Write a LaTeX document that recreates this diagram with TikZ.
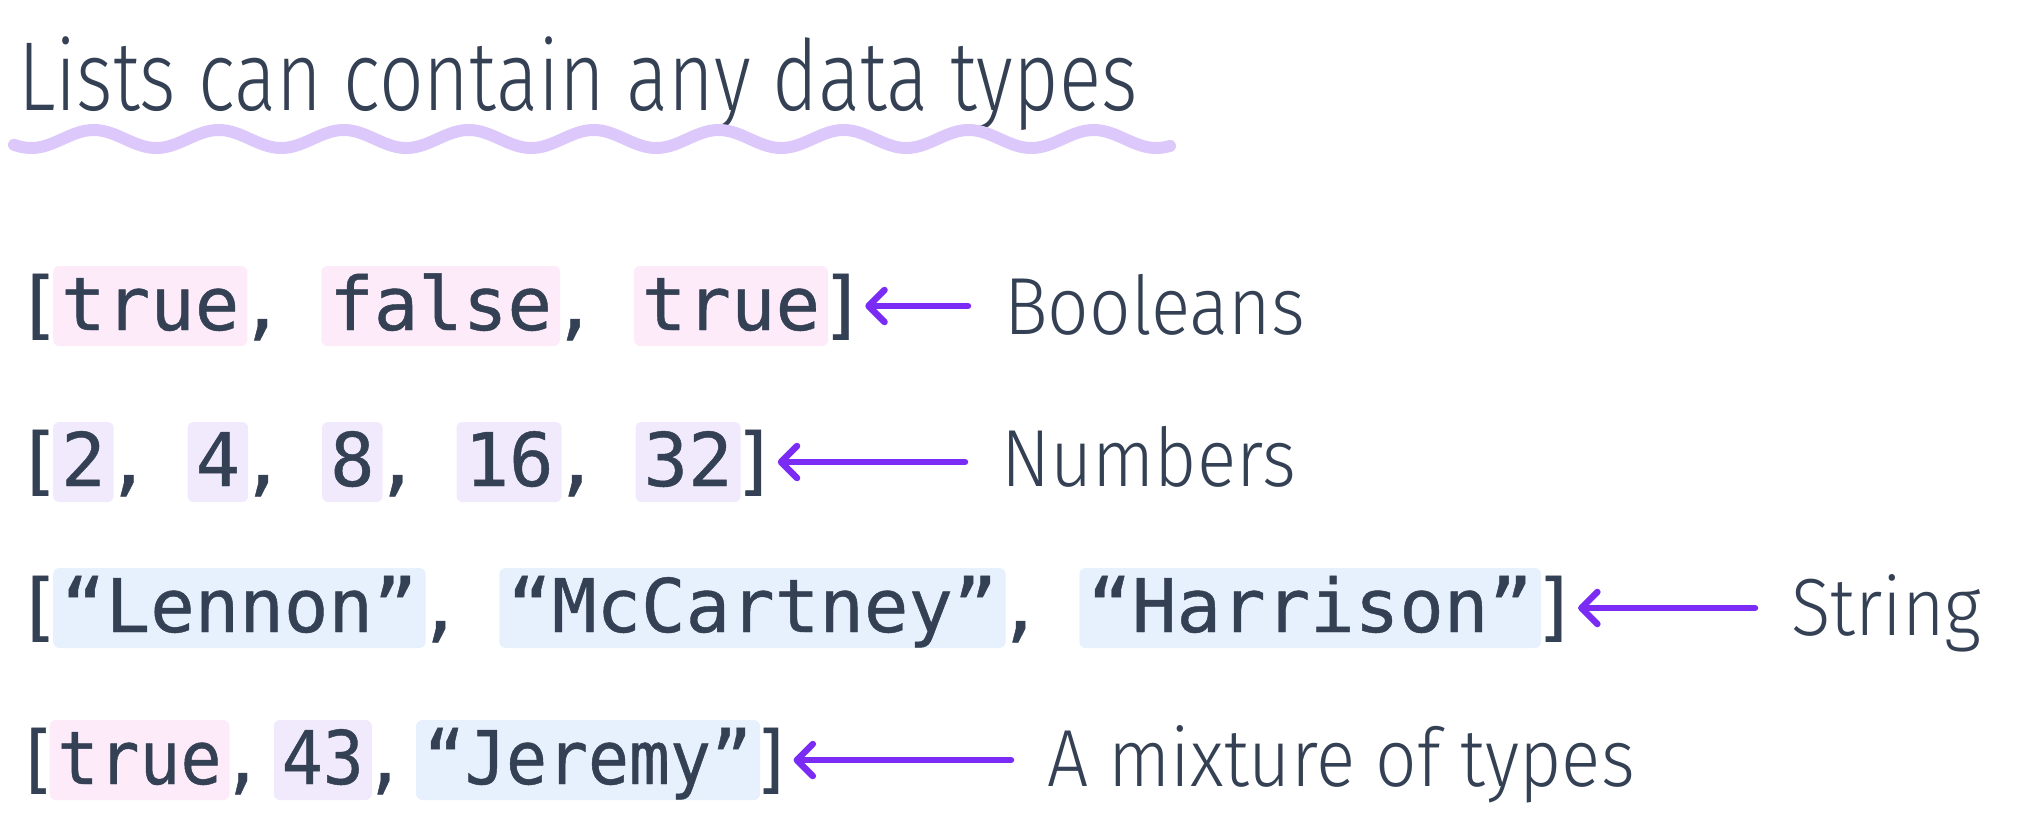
\documentclass[tikz,border=0pt]{standalone}
\usepackage{fontspec}
\usetikzlibrary{positioning,arrows.meta}

\newfontfamily\codefont[FakeBold=0.6]{DejaVu Sans Mono}
\newfontfamily\codenarrow[FakeBold=0.6, FakeStretch=0.92]{DejaVu Sans Mono}
\newfontfamily\handfont[FakeStretch=0.9]{Fira Sans Light}
\newfontfamily\titlefont[FakeStretch=0.8]{Fira Sans Light}

\definecolor{ink}{HTML}{344054}
\definecolor{boolbg}{HTML}{FDEBFA}
\definecolor{numbg}{HTML}{F1EAFD}
\definecolor{strbg}{HTML}{E7F1FE}
\definecolor{arrowcol}{HTML}{7A2BF4}
\definecolor{wavecol}{HTML}{DCC8FA}

\begin{document}
\begin{tikzpicture}[x=1pt, y=-1pt, node distance=0pt,
	codetxt/.style={text=ink, font=\codefont\fontsize{74}{84}\selectfont, inner sep=0pt, text height=56pt, text depth=8pt},
	narrow/.style={font=\codenarrow\fontsize{74}{84}\selectfont},
	sepitem/.style={codetxt},
	listitem/.style={codetxt, inner xsep=8pt, inner ysep=8pt, rounded corners=6pt},
	boolitem/.style={listitem, fill=boolbg},
	numitem/.style={listitem, fill=numbg},
	stritem/.style={listitem, fill=strbg},
	handtxt/.style={text=ink, font=\handfont\fontsize{81}{90}\selectfont, inner sep=0pt, anchor=base west},
	titletxt/.style={handtxt, font=\titlefont\fontsize{98}{106}\selectfont},
	wavyline/.style={draw=wavecol, line width=12pt, line cap=round},
	pointer/.style={draw=arrowcol, line width=6.5pt, line cap=round, shorten <=36pt,
		-{Straight Barb[length=16pt, width=32pt, line cap=round, line join=round]}}]
	
	\useasboundingbox (0,0) rectangle (2031,822);
	
	% Title and its wavy underline
	\node[titletxt] (title) at (18,110) {Lists can contain any data types};
	\draw[wavyline] plot[domain=14:1170, samples=260, smooth] (\x, {139 + 9*sin(\x/125*360)});
	
	% Row 1: booleans
	\node[codetxt, anchor=base west] (r1open) at (16,330) {[};
	\node[boolitem, right=-8pt of r1open] (r1a) {true};
	\node[sepitem, right=-8pt of r1a] (r1s1) {,\phantom{x}};
	\node[boolitem, right=-8pt of r1s1] (r1b) {false};
	\node[sepitem, right=-8pt of r1b] (r1s2) {,\phantom{x}};
	\node[boolitem, right=-8pt of r1s2] (r1c) {true};
	\node[codetxt, right=-8pt of r1c] (r1close) {]};
	
	% Row 2: numbers
	\node[codetxt, anchor=base west] (r2open) at (16,486) {[};
	\node[numitem, right=-8pt of r2open] (r2a) {2};
	\node[sepitem, right=-8pt of r2a] (r2s1) {,\phantom{x}};
	\node[numitem, right=-8pt of r2s1] (r2b) {4};
	\node[sepitem, right=-8pt of r2b] (r2s2) {,\phantom{x}};
	\node[numitem, right=-8pt of r2s2] (r2c) {8};
	\node[sepitem, right=-8pt of r2c] (r2s3) {,\phantom{x}};
	\node[numitem, right=-8pt of r2s3] (r2d) {16};
	\node[sepitem, right=-8pt of r2d] (r2s4) {,\phantom{x}};
	\node[numitem, right=-8pt of r2s4] (r2e) {32};
	\node[codetxt, right=-8pt of r2e] (r2close) {]};
	
	% Row 3: strings
	\node[codetxt, anchor=base west] (r3open) at (16,632) {[};
	\node[stritem, right=-8pt of r3open] (r3a) {“Lennon”};
	\node[sepitem, right=-8pt of r3a] (r3s1) {,\phantom{x}};
	\node[stritem, right=-8pt of r3s1] (r3b) {“McCartney”};
	\node[sepitem, right=-8pt of r3b] (r3s2) {,\phantom{x}};
	\node[stritem, right=-8pt of r3s2] (r3c) {“Harrison”};
	\node[codetxt, right=-8pt of r3c] (r3close) {]};
	
	% Row 4: mixed (set a bit tighter)
	\node[codetxt, narrow, anchor=base west] (r4open) at (16,784) {[};
	\node[boolitem, narrow, right=-8pt of r4open] (r4a) {true};
	\node[sepitem, narrow, right=-8pt of r4a] (r4s1) {,\kern0.25em};
	\node[numitem, narrow, right=-8pt of r4s1] (r4b) {43};
	\node[sepitem, narrow, right=-8pt of r4b] (r4s2) {,\kern0.25em};
	\node[stritem, narrow, right=-8pt of r4s2] (r4c) {“Jeremy”};
	\node[codetxt, narrow, right=-8pt of r4c] (r4close) {]};
	
	% Type names
	\node[handtxt] (booleans) at (1004,334) {Booleans};
	\node[handtxt] (numbers) at (1001,486) {Numbers};
	\node[handtxt] (strings) at (1791,635) {String};
	\node[handtxt] (mixture) at (1047,786) {A mixture of types};
	
	% Arrows from names to lists
	\foreach \name/\lst in {
		booleans/r1close,
		numbers/r2close,
		strings/r3close,
		mixture/r4close}
	\draw[pointer] (\name.west |- \lst) -- (\lst);
	
\end{tikzpicture}
\end{document}
